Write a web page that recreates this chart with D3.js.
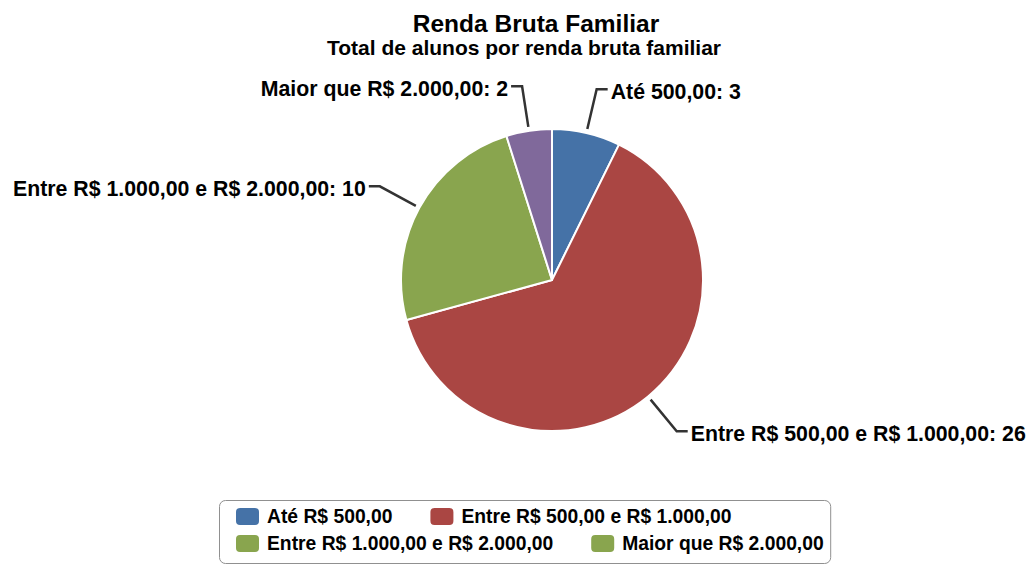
<!DOCTYPE html>
<html>
<head>
<meta charset="utf-8">
<script src="https://cdn.jsdelivr.net/npm/d3@7"></script>
<style>
  body { margin: 0; background: #fff; }
  text { font-family: "Liberation Sans", Arial, sans-serif; font-weight: bold; }
</style>
</head>
<body>
<div id="chart"></div>
<script>
// data
var categories = ["Até R$ 500,00", "Entre R$ 500,00 e R$ 1.000,00", "Entre R$ 1.000,00 e R$ 2.000,00", "Maior que R$ 2.000,00"];
var sliceLabels = ["Até 500,00", "Entre R$ 500,00 e R$ 1.000,00", "Entre R$ 1.000,00 e R$ 2.000,00", "Maior que R$ 2.000,00"];
var values = [3, 26, 10, 2];
var sliceColors = ["#4572A7", "#AA4643", "#89A54E", "#80699B"];
// the legend in the original shows the last swatch green
var legendColors = ["#4572A7", "#AA4643", "#89A54E", "#89A54E"];

var title = "Renda Bruta Familiar";
var subtitle = "Total de alunos por renda bruta familiar";

var width = 1030, height = 564;
var cx = 552, cy = 280, r = 151;

var svg = d3.select("#chart").append("svg")
    .attr("width", width)
    .attr("height", height);

// titles
svg.append("text")
    .attr("x", 536).attr("y", 32)
    .attr("text-anchor", "middle")
    .style("font-size", "24.5px")
    .attr("fill", "#000")
    .text(title);

svg.append("text")
    .attr("x", 524).attr("y", 55)
    .attr("text-anchor", "middle")
    .style("font-size", "21px")
    .attr("fill", "#000")
    .text(subtitle);

// pie
var pie = d3.pie().sort(null).value(function(d) { return d; });
var arc = d3.arc().innerRadius(0).outerRadius(r);
var arcs = pie(values);

var g = svg.append("g").attr("transform", "translate(" + cx + "," + cy + ")");

g.selectAll("path.slice")
    .data(arcs)
  .enter().append("path")
    .attr("class", "slice")
    .attr("d", arc)
    .attr("fill", function(d, i) { return sliceColors[i]; })
    .attr("stroke", "#fff")
    .attr("stroke-width", 2)
    .attr("stroke-linejoin", "round");

// connectors + data labels
function pt(a, R) { return [R * Math.sin(a), -R * Math.cos(a)]; }

arcs.forEach(function(d, i) {
  var a = (d.startAngle + d.endAngle) / 2;
  var right = Math.sin(a) > 0;
  var p0 = pt(a, r + 4), p1 = pt(a, r + 45);
  var p2 = [p1[0] + (right ? 11 : -11), p1[1]];
  g.append("path")
      .attr("d", "M" + p0 + "L" + p1 + "L" + p2)
      .attr("fill", "none")
      .attr("stroke", "#333")
      .attr("stroke-width", 2.5);
  g.append("text")
      .attr("x", p2[0] + (right ? 3 : -3))
      .attr("y", p1[1] + 10)
      .attr("text-anchor", right ? "start" : "end")
      .style("font-size", "21.3px")
      .attr("fill", "#000")
      .text(sliceLabels[i] + ": " + values[i]);
});

// legend
var legend = svg.append("g");
var box = legend.append("rect")
    .attr("x", 219.5).attr("y", 500.5)
    .attr("rx", 6).attr("ry", 6)
    .attr("fill", "#fff")
    .attr("stroke", "#909090")
    .attr("stroke-width", 1);

var lx0 = 236, lx = lx0, row = 0, maxRight = 0, maxW = 620, itemGap = 38;
categories.forEach(function(c, i) {
  var item = legend.append("g");
  item.append("rect")
      .attr("width", 23).attr("height", 17)
      .attr("rx", 4).attr("ry", 4)
      .attr("fill", legendColors[i]);
  var t = item.append("text")
      .attr("x", 31).attr("y", 15)
      .style("font-size", "19.3px")
      .attr("fill", "#000")
      .text(c);
  var w = 31 + t.node().getComputedTextLength();
  if (lx > lx0 && lx + w - lx0 > maxW) { row++; lx = lx0; }
  item.attr("transform", "translate(" + lx + "," + (508 + row * 27) + ")");
  maxRight = Math.max(maxRight, lx + w);
  lx += w + itemGap;
});
box.attr("width", maxRight + 7 - 219.5).attr("height", 63);
</script>
</body>
</html>
